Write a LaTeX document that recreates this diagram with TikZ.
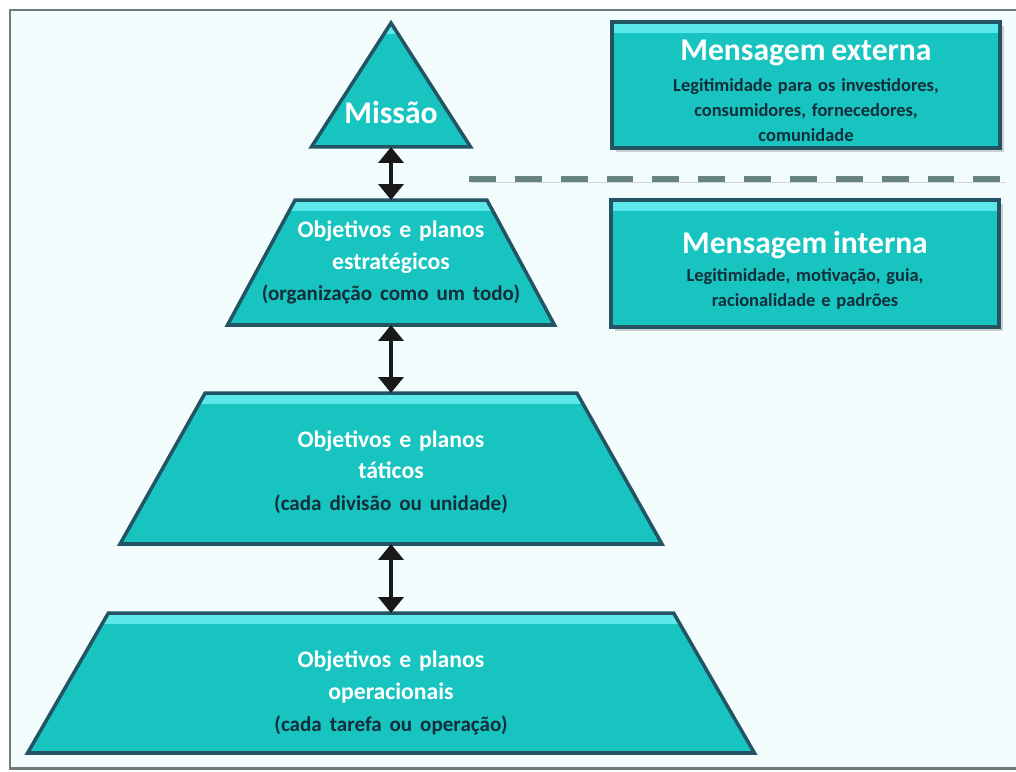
\documentclass[tikz,border=0pt]{standalone}
\usepackage{fontspec}
\setmainfont{Carlito}
\usetikzlibrary{arrows.meta,positioning,shapes.geometric,shadows}
\definecolor{bg}{RGB}{242,252,252}
\definecolor{framegray}{RGB}{112,124,124}
\definecolor{tealfill}{RGB}{24,196,192}
\definecolor{hilite}{RGB}{90,232,234}
\definecolor{edge}{RGB}{34,84,100}
\definecolor{subtxt}{RGB}{18,46,58}
\definecolor{dashgray}{RGB}{104,132,130}

\begin{document}
\begin{tikzpicture}[x=0.02cm, y=-0.02cm, font=\bfseries,
  stripe/.style={path picture={\fill[hilite] (path picture bounding box.north west)
      rectangle ([yshift=-6pt]path picture bounding box.north east);}},
  tier/.style={trapezium, trapezium stretches body, draw=edge, line width=2pt,
    fill=tealfill, inner sep=0pt, outer sep=0pt, stripe},
  tiertxt/.style={text width=6.4cm, align=center, text=white, inner sep=0pt,
    font=\fontsize{13.5}{18}\selectfont\bfseries},
  msgbox/.style={rectangle, draw=edge, line width=2pt, fill=tealfill, stripe,
    minimum width=7.76cm, text width=7.4cm, align=center, inner sep=0pt,
    text=white, drop shadow={shadow xshift=2.5pt, shadow yshift=-2.5pt, opacity=.35}},
  link/.style={{Triangle[width=14pt,length=9pt]}-{Triangle[width=14pt,length=9pt]},
    line width=2.6pt, black!90}]
\useasboundingbox (0,0) rectangle (1016,771);

% frame
\fill[bg] (10,10) rectangle (1016,768);
\draw[framegray, line width=1.7pt] (1016,10) -- (10,10) -- (10,768) -- (1016,768);

% pyramid (the rule only gives each tier its height)
\node[tier, trapezium left angle=57.3, trapezium right angle=57.3]
  (missao) at (391,85) {\rule{0pt}{2.48cm}};
\node[text=white, font=\fontsize{18}{20}\selectfont\bfseries] (missao-txt) at (391,113) {Missão};

\node[tier, trapezium left angle=61.6, trapezium right angle=61.6,
  minimum width=6.54cm] (estrat) at (391,262.5) {\rule{0pt}{2.5cm}};
\node[tiertxt] (estrat-txt) at (estrat.center)
  {Objetivos e planos\\estratégicos\\\textcolor{subtxt}{\fontsize{12}{18}\selectfont(organização como um todo)}};

\node[tier, trapezium left angle=60.6, trapezium right angle=60.6,
  minimum width=10.84cm] (tatico) at (391,468.5) {\rule{0pt}{3.02cm}};
\node[tiertxt] (tatico-txt) at ([yshift=-2pt]tatico.center)
  {Objetivos e planos\\táticos\\\textcolor{subtxt}{\fontsize{12}{18}\selectfont(cada divisão ou unidade)}};

\node[tier, trapezium left angle=60, trapezium right angle=60,
  minimum width=14.54cm] (operac) at (391,683) {\rule{0pt}{2.8cm}};
\node[tiertxt] (operac-txt) at (391,693)
  {Objetivos e planos\\operacionais\\\textcolor{subtxt}{\fontsize{12}{18}\selectfont(cada tarefa ou operação)}};

\draw[link] (missao.south) -- (estrat.north);
\draw[link] (estrat.south) -- (tatico.north);
\draw[link] (tatico.south) -- (operac.north);

% messages
\node[msgbox, minimum height=2.52cm] (externa) at (806,85)
  {{\fontsize{18}{20}\selectfont\rule{0pt}{18pt}Mensagem externa\par}\vspace{3.4pt}
   \color{subtxt}\fontsize{10.5}{14.2}\selectfont
   Legitimidade para os investidores,\\consumidores, fornecedores,\\comunidade\par};
\node[msgbox, minimum height=2.54cm] (interna) at (805,263.5)
  {{\fontsize{18}{20}\selectfont\rule{0pt}{20.5pt}Mensagem interna\par}\vspace{1.7pt}
   \color{subtxt}\fontsize{10.5}{14.2}\selectfont
   Legitimidade, motivação, guia,\\racionalidade e padrões\par};

\coordinate (cut-w) at (469,179);
\coordinate (cut-e) at (1004,179);
\draw[dashgray, line width=3.4pt, dash pattern=on 15.3pt off 10.8pt,
  preaction={draw=dashgray!30, transform canvas={shift={(1pt,-2pt)}}}] (cut-w) -- (cut-e);
\end{tikzpicture}
\end{document}
